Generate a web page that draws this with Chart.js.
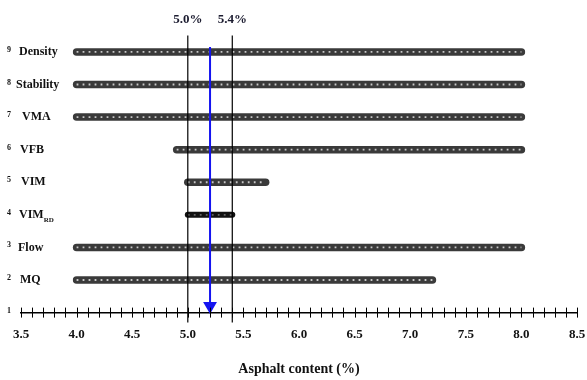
<!DOCTYPE html>
<html lang="en">
<head>
  <meta charset="UTF-8">
  <title>Asphalt content</title>
  <style>
    body { margin: 0; background: #fff; }
    #wrap { width: 587px; height: 380px; }
  </style>
</head>
<body>
  <div id="wrap"><canvas id="chart"></canvas></div>

  <script src="https://cdn.jsdelivr.net/npm/chart.js"></script>
  <script>
    // rows of the chart (top to bottom)
    const rowNums = [9, 8, 7, 6, 5, 4, 3, 2];
    const rowNames = ['Density', 'Stability', 'VMA', 'VFB', 'VIM', 'VIM', 'Flow', 'MQ'];
    const rowSubs = ['', '', '', '', '', 'RD', '', ''];
    const rowLabelX = [19, 16, 22, 20, 21, 19, 18, 20];
    // acceptable asphalt content range for each property (%)
    const rangeStart = [4.0, 4.0, 4.0, 4.9, 5.0, 5.0, 4.0, 4.0];
    const rangeEnd = [8.0, 8.0, 8.0, 8.0, 5.7, 5.4, 8.0, 7.2];
    // common range limits and chosen optimum
    const limits = [5.0, 5.4];
    const optimum = 5.2;
    const axisRow = 1;

    const serif = "'Liberation Serif', 'DejaVu Serif', serif";

    const datasets = [];

    // blue arrow at the optimum
    datasets.push({
      data: [{ x: optimum, y: 9.15 }, { x: optimum, y: 1.2 }],
      showLine: true,
      borderColor: '#1414f0',
      backgroundColor: '#1414f0',
      borderWidth: 2,
      pointStyle: 'triangle',
      pointRadius: [0, 6],
      pointRotation: [0, 180],
      clip: false,
      order: 0
    });

    // vertical limit lines
    limits.forEach(v => {
      datasets.push({
        data: [{ x: v, y: 0.7 }, { x: v, y: 9.5 }],
        showLine: true,
        borderColor: '#000',
        borderWidth: 1.2,
        pointRadius: 0,
        clip: false,
        order: 1
      });
    });

    // ranges: thick dark bar with a row of light dots on top
    rowNums.forEach((r, i) => {
      const pts = [{ x: rangeStart[i], y: r }, { x: rangeEnd[i], y: r }];
      const rd = rowSubs[i] !== '';
      datasets.push({
        data: pts,
        showLine: true,
        borderColor: rd ? '#111' : '#3a3a3a',
        borderWidth: rd ? 6 : 7.5,
        borderCapStyle: 'round',
        pointRadius: 0,
        order: 3
      });
      datasets.push({
        data: pts,
        showLine: true,
        borderColor: rd ? 'rgba(255,255,255,0.35)' : 'rgba(225,225,225,0.85)',
        borderWidth: 1.8,
        borderDash: [1.8, 4.2],
        pointRadius: 0,
        order: 2
      });
    });

    const sideLabels = {
      id: 'sideLabels',
      afterDatasetsDraw(chart) {
        const { ctx, scales: { x, y } } = chart;
        ctx.save();
        // crossing tick marks on the bottom axis
        ctx.strokeStyle = '#000';
        ctx.lineWidth = 1;
        x.ticks.forEach(t => {
          const px = Math.round(x.getPixelForValue(t.value)) + 0.5;
          ctx.beginPath();
          ctx.moveTo(px, y.bottom - 5);
          ctx.lineTo(px, y.bottom + 5);
          ctx.stroke();
        });
        // row labels
        ctx.fillStyle = '#111';
        ctx.textBaseline = 'middle';
        ctx.textAlign = 'left';
        const drawNum = (n, py) => {
          ctx.font = 'bold 8px ' + serif;
          ctx.fillText(String(n), 7, py - 2);
        };
        rowNums.forEach((r, i) => {
          const py = y.getPixelForValue(r);
          drawNum(r, py);
          ctx.font = 'bold 12px ' + serif;
          ctx.fillText(rowNames[i], rowLabelX[i], py);
          if (rowSubs[i]) {
            const w = ctx.measureText(rowNames[i]).width;
            ctx.font = 'bold 7px ' + serif;
            ctx.fillText(rowSubs[i], rowLabelX[i] + w, py + 5);
          }
        });
        drawNum(axisRow, y.getPixelForValue(axisRow));
        ctx.restore();
      }
    };

    new Chart(document.getElementById('chart'), {
      type: 'scatter',
      data: { datasets: datasets },
      plugins: [sideLabels],
      options: {
        responsive: true,
        maintainAspectRatio: false,
        animation: false,
        layout: { padding: { left: 21, right: 10, top: 12, bottom: 2 } },
        plugins: {
          legend: { display: false },
          tooltip: { enabled: false }
        },
        scales: {
          x: {
            type: 'linear',
            position: 'bottom',
            min: 3.5,
            max: 8.5,
            ticks: {
              stepSize: 0.1,
              autoSkip: false,
              maxRotation: 0,
              maxTicksLimit: 100,
              padding: 0,
              color: '#111',
              font: { family: serif, size: 13, weight: 'bold' },
              callback: v => (Math.round(v * 10) % 5 === 0 ? v.toFixed(1) : '')
            },
            grid: { display: false, drawTicks: true, tickLength: 14 },
            border: { color: '#000', width: 1.5 },
            title: {
              display: true,
              text: 'Asphalt content (%)',
              color: '#111',
              font: { family: serif, size: 14, weight: 'bold' },
              padding: { top: 19, bottom: 0 }
            }
          },
          x2: {
            type: 'linear',
            axis: 'x',
            position: 'top',
            min: 3.5,
            max: 8.5,
            afterBuildTicks: axis => { axis.ticks = limits.map(v => ({ value: v })); },
            ticks: {
              autoSkip: false,
              maxRotation: 0,
              padding: 0,
              color: '#1c1c30',
              font: { family: serif, size: 13, weight: 'bold' },
              callback: v => v.toFixed(1) + '%'
            },
            grid: { display: false },
            border: { display: false }
          },
          y: {
            type: 'linear',
            min: 1,
            max: 9.5,
            display: false
          }
        }
      }
    });
  </script>
</body>
</html>
